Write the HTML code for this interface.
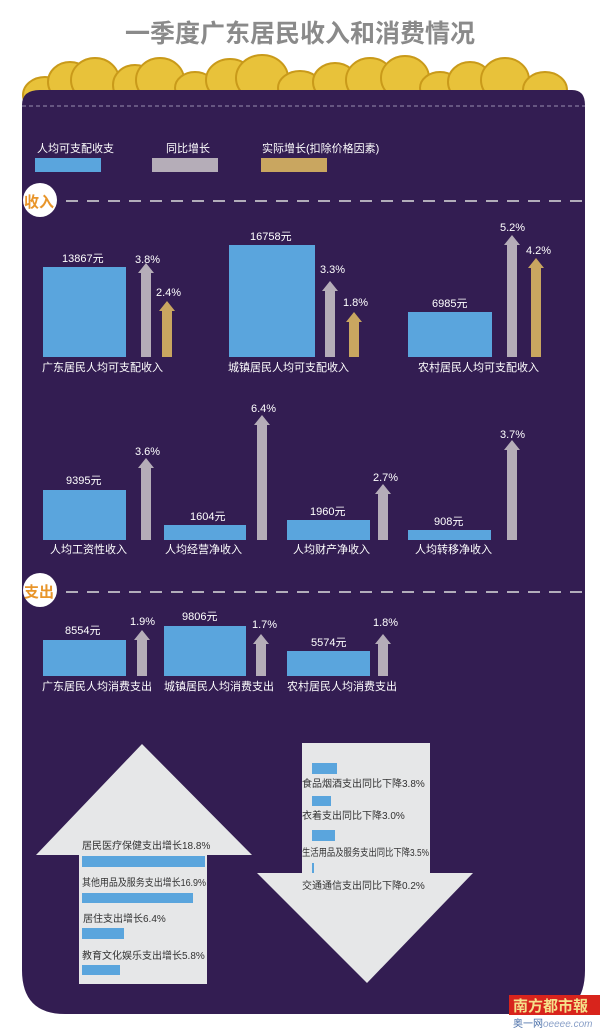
<!DOCTYPE html>
<html><head><meta charset="utf-8"><style>
body{margin:0;background:#fff;}
svg{display:block;font-family:"Liberation Sans","Noto Sans CJK SC",sans-serif;}
</style></head><body>
<svg width="600" height="1031" viewBox="0 0 600 1031">
<text x="300" y="42" text-anchor="middle" font-size="25" font-weight="bold" fill="#8a8a8a">一季度广东居民收入和消费情况</text>
<g fill="#e8c23a" stroke="#c99a1a" stroke-width="2">
<ellipse cx="45" cy="95" rx="22" ry="18"/><ellipse cx="70" cy="82" rx="22" ry="20"/><ellipse cx="95" cy="80" rx="24" ry="22"/>
<ellipse cx="135" cy="85" rx="22" ry="20"/><ellipse cx="160" cy="80" rx="24" ry="22"/><ellipse cx="195" cy="88" rx="20" ry="16"/>
<ellipse cx="230" cy="80" rx="24" ry="21"/><ellipse cx="262" cy="78" rx="26" ry="23"/><ellipse cx="300" cy="88" rx="22" ry="17"/>
<ellipse cx="335" cy="82" rx="22" ry="19"/><ellipse cx="370" cy="80" rx="24" ry="22"/><ellipse cx="405" cy="78" rx="24" ry="22"/>
<ellipse cx="440" cy="88" rx="20" ry="16"/><ellipse cx="470" cy="82" rx="22" ry="20"/><ellipse cx="505" cy="80" rx="24" ry="22"/><ellipse cx="545" cy="90" rx="22" ry="18"/>
</g>
<path d="M40 90 H572 Q585 90 585 105 V970 Q585 1014 545 1014 H65 Q22 1014 22 970 V105 Q22 90 40 90Z" fill="#331d52"/>
<line x1="22" y1="106" x2="585" y2="106" stroke="#9a8fb0" stroke-width="1" stroke-dasharray="4,3"/>
<g font-size="11" fill="#fff">
<text x="37" y="152">人均可支配收支</text><text x="166" y="152">同比增长</text><text x="262" y="152">实际增长(扣除价格因素)</text></g>
<rect x="35" y="158" width="66" height="14" fill="#5aa5dd"/><rect x="152" y="158" width="66" height="14" fill="#b5adb8"/><rect x="261" y="158" width="66" height="14" fill="#c9a660"/>
<circle cx="40" cy="200" r="17" fill="#fff"/><text x="24" y="207" font-size="15" font-weight="bold" fill="#e8952a">收入</text>
<line x1="66" y1="201" x2="585" y2="201" stroke="#ddd" stroke-width="1.5" stroke-dasharray="12,9"/>
<circle cx="40" cy="590" r="17" fill="#fff"/><text x="24" y="597" font-size="15" font-weight="bold" fill="#e8952a">支出</text>
<line x1="66" y1="592" x2="585" y2="592" stroke="#ddd" stroke-width="1.5" stroke-dasharray="12,9"/>
<g fill="#5aa5dd">
<rect x="43" y="267" width="83" height="90"/><rect x="229" y="245" width="86" height="112"/><rect x="408" y="312" width="84" height="45"/>
<rect x="43" y="490" width="83" height="50"/><rect x="164" y="525" width="82" height="15"/><rect x="287" y="520" width="83" height="20"/><rect x="408" y="530" width="83" height="10"/>
<rect x="43" y="640" width="83" height="36"/><rect x="164" y="626" width="82" height="50"/><rect x="287" y="651" width="83" height="25"/>
</g>
<g fill="#b5adb8">
<path d="M141 357V273H138L146 263L154 273H151V357Z"/>
<path d="M325 357V291H322L330 281L338 291H335V357Z"/>
<path d="M507 357V245H504L512 235L520 245H517V357Z"/>
<path d="M141 540V468H138L146 458L154 468H151V540Z"/>
<path d="M257 540V425H254L262 415L270 425H267V540Z"/>
<path d="M378 540V494H375L383 484L391 494H388V540Z"/>
<path d="M507 540V450H504L512 440L520 450H517V540Z"/>
<path d="M137 676V640H134L142 630L150 640H147V676Z"/>
<path d="M256 676V644H253L261 634L269 644H266V676Z"/>
<path d="M378 676V644H375L383 634L391 644H388V676Z"/>
</g>
<g fill="#c9a660">
<path d="M162 357V311H159L167 301L175 311H172V357Z"/>
<path d="M349 357V322H346L354 312L362 322H359V357Z"/>
<path d="M531 357V268H528L536 258L544 268H541V357Z"/>
</g>
<g font-size="11" fill="#fff">
<text x="62" y="262">13867元</text><text x="135" y="263">3.8%</text><text x="156" y="296">2.4%</text>
<text x="250" y="240">16758元</text><text x="320" y="273">3.3%</text><text x="343" y="306">1.8%</text>
<text x="432" y="307">6985元</text><text x="500" y="231">5.2%</text><text x="526" y="254">4.2%</text>
<text x="66" y="484">9395元</text><text x="135" y="455">3.6%</text>
<text x="190" y="520">1604元</text><text x="251" y="412">6.4%</text>
<text x="310" y="515">1960元</text><text x="373" y="481">2.7%</text>
<text x="434" y="525">908元</text><text x="500" y="438">3.7%</text>
<text x="65" y="634">8554元</text><text x="130" y="625">1.9%</text>
<text x="182" y="620">9806元</text><text x="252" y="628">1.7%</text>
<text x="311" y="646">5574元</text><text x="373" y="626">1.8%</text>
<text x="42" y="371">广东居民人均可支配收入</text><text x="228" y="371">城镇居民人均可支配收入</text><text x="418" y="371">农村居民人均可支配收入</text>
<text x="50" y="553">人均工资性收入</text><text x="165" y="553">人均经营净收入</text><text x="293" y="553">人均财产净收入</text><text x="415" y="553">人均转移净收入</text>
<text x="42" y="690">广东居民人均消费支出</text><text x="164" y="690">城镇居民人均消费支出</text><text x="287" y="690">农村居民人均消费支出</text>
</g>
<path d="M142 744L252 855H207V984H79V855H36Z" fill="#e6e7e8"/>
<path d="M302 743H430V873H473L367 983L257 873H302Z" fill="#e6e7e8"/>
<g fill="#5aa5dd">
<rect x="82" y="856" width="123" height="11"/><rect x="82" y="893" width="111" height="10"/><rect x="82" y="928" width="42" height="11"/><rect x="82" y="965" width="38" height="10"/>
<rect x="312" y="763" width="25" height="11"/><rect x="312" y="796" width="19" height="10"/><rect x="312" y="830" width="23" height="11"/><rect x="312" y="863" width="2" height="10"/>
</g>
<g font-size="10" fill="#333">
<text x="82" y="849">居民医疗保健支出增长18.8%</text><text x="82" y="886" textLength="124" lengthAdjust="spacingAndGlyphs">其他用品及服务支出增长16.9%</text><text x="83" y="922">居住支出增长6.4%</text><text x="82" y="959">教育文化娱乐支出增长5.8%</text>
<text x="302" y="787">食品烟酒支出同比下降3.8%</text><text x="302" y="819">衣着支出同比下降3.0%</text><text x="302" y="856" textLength="127" lengthAdjust="spacingAndGlyphs">生活用品及服务支出同比下降3.5%</text><text x="302" y="889">交通通信支出同比下降0.2%</text>
</g>
<rect x="509" y="995" width="91" height="20" fill="#d8241c"/>
<text x="513" y="1011" font-size="15" font-weight="bold" fill="#f5e08a">南方都市報</text>
<text x="513" y="1027" font-size="10" fill="#4a6fa8">奥一网<tspan font-style="italic" fill="#8aa0c8">oeeee.com</tspan></text>
</svg>
</body></html>
